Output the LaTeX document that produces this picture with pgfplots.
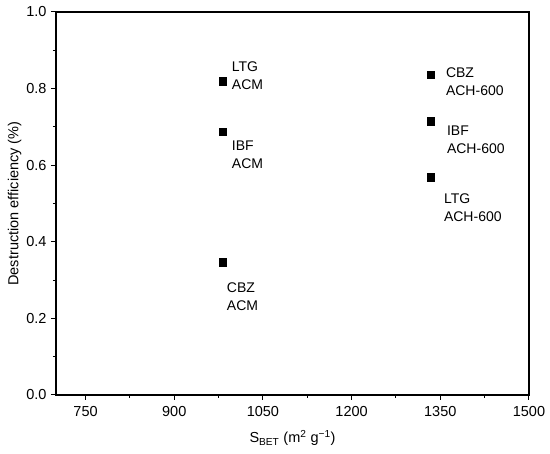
\documentclass[border=0pt]{standalone}
\usepackage{fontspec}
\setmainfont{Liberation Sans}
\usepackage{pgfplots}
\pgfplotsset{compat=1.18}
\begin{document}
\begin{tikzpicture}[font=\fontsize{14.5}{18}\selectfont]
\useasboundingbox (-56pt,-59pt) rectangle (494pt,395pt);
\begin{axis}[
  at={(0pt,0pt)}, anchor=south west,
  scale only axis, width=473pt, height=383pt,
  xmin=700, xmax=1500, ymin=0, ymax=1,
  xtick={750,900,1050,1200,1350,1500},
  ytick={0,0.2,0.4,0.6,0.8,1.0},
  minor x tick num=1, minor y tick num=1,
  tick align=outside, tick pos=left,
  major tick length=5pt, minor tick length=3pt,
  axis line style={line width=1.1pt},
  every tick/.style={line width=1pt, black},
  tick label style={font=\fontsize{14.5}{18}\selectfont},
  label style={font=\fontsize{14.5}{18}\selectfont},
  /pgf/number format/assume math mode=true,
  /pgf/number format/1000 sep={},
  yticklabel style={/pgf/number format/fixed, /pgf/number format/fixed zerofill, /pgf/number format/precision=1, xshift=-1pt},
  xticklabel style={yshift=-3pt},
  ylabel={Destruction efficiency (\%)},
  xlabel={S\textsubscript{BET} (m\textsuperscript{2} g\textsuperscript{−1})},
  ylabel style={yshift=-2pt},
  xlabel style={yshift=-7pt},
  clip=false,
]
\addplot[only marks, mark=square*, mark size=3.8pt, black] coordinates {
  (982,0.820) (982,0.687) (982,0.347)
  (1334,0.836) (1334,0.715) (1334,0.569)
};
\begin{scope}[every node/.style={align=left, inner sep=0pt, anchor=west, font=\fontsize{14}{18}\selectfont}]
\node[xshift=9pt, yshift=5pt] at (axis cs:982,0.820) {LTG\\ACM};
\node[xshift=9pt, yshift=-23pt] at (axis cs:982,0.687) {IBF\\ACM};
\node[xshift=4pt, yshift=-35pt] at (axis cs:982,0.347) {CBZ\\ACM};
\node[xshift=15pt, yshift=-7pt] at (axis cs:1334,0.836) {CBZ\\ACH-600};
\node[xshift=16pt, yshift=-19pt] at (axis cs:1334,0.715) {IBF\\ACH-600};
\node[xshift=13pt, yshift=-31pt] at (axis cs:1334,0.569) {LTG\\ACH-600};
\end{scope}
\end{axis}
\end{tikzpicture}
\end{document}
